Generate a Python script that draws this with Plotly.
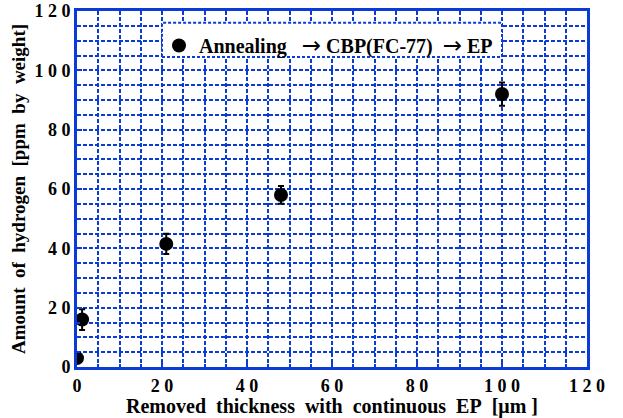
import plotly.graph_objects as go

# Data
removed_um = [0, 1.2, 21, 48, 100]
hydrogen_ppm = [3, 16, 41.5, 58, 92]
hydrogen_err = [0, 3.5, 3.4, 3.0, 3.9]

tick_vals = [0, 20, 40, 60, 80, 100, 120]
tick_text = ["0", "2\u00a00", "4\u00a00", "6\u00a00", "8\u00a00", "1\u00a00\u00a00", "1\u00a02\u00a00"]

NB = "\u00a0"
ARROW = '<span style="font-family:DejaVu Sans;font-size:23px;font-weight:normal">\u2192</span>'
series_name = "Annealing" + NB * 3 + ARROW + NB + "CBP(FC-77)" + NB * 2 + ARROW + NB + "EP"
x_title = (NB * 2).join(["Removed", "thickness", "with", "continuous", "EP", "[\u03bcm" + NB + "]"])
y_title = (NB * 2).join(["Amount", "of", "hydrogen", "[ppm", "by", "weight]"])

BLUE = "#0a3ad8"
FONT = "Liberation Serif"

fig = go.Figure()
fig.add_trace(go.Scatter(
    x=removed_um, y=hydrogen_ppm, mode="markers", name=series_name,
    marker=dict(color="black", size=14, symbol="circle"),
    error_y=dict(type="data", array=hydrogen_err, color="black", thickness=2, width=3),
    showlegend=True,
))

# white legend box with dotted border
fig.add_shape(type="rect", xref="x", yref="y", x0=20, x1=100, y0=104.5, y1=116,
              fillcolor="white", line=dict(color=BLUE, width=2, dash="3px,2px"),
              layer="between")

axis_common = dict(
    range=[0, 120], tickvals=tick_vals, ticktext=tick_text,
    showline=True, linecolor=BLUE, linewidth=3, mirror=True,
    ticks="inside", ticklen=5, tickwidth=2, tickcolor=BLUE,
    showgrid=True, gridcolor=BLUE, gridwidth=2, griddash="4px,2px",
    minor=dict(dtick=5, showgrid=True, gridcolor=BLUE, gridwidth=2, griddash="4px,2px",
               ticks="inside", ticklen=3, tickwidth=2, tickcolor=BLUE),
    zeroline=False,
    tickfont=dict(family=FONT, size=18, color="black", weight="bold"),
)

fig.update_xaxes(**axis_common,
                 title=dict(text=x_title,
                            font=dict(family=FONT, size=20, color="black", weight="bold"),
                            standoff=0))
fig.update_yaxes(**axis_common,
                 title=dict(text=y_title,
                            font=dict(family=FONT, size=19, color="black", weight="bold"),
                            standoff=4))

fig.update_layout(
    width=623, height=418,
    margin=dict(l=77, r=36, t=11, b=51, autoexpand=False),
    paper_bgcolor="white", plot_bgcolor="white",
    showlegend=True,
    legend=dict(x=(159 - 77) / 510, y=(367 - 26) / 356, xanchor="left", yanchor="top",
                bgcolor="rgba(0,0,0,0)", borderwidth=0,
                font=dict(family=FONT, size=20, color="black", weight="bold"),
                itemwidth=30, tracegroupgap=0),
)

fig.write_html("out.html")
